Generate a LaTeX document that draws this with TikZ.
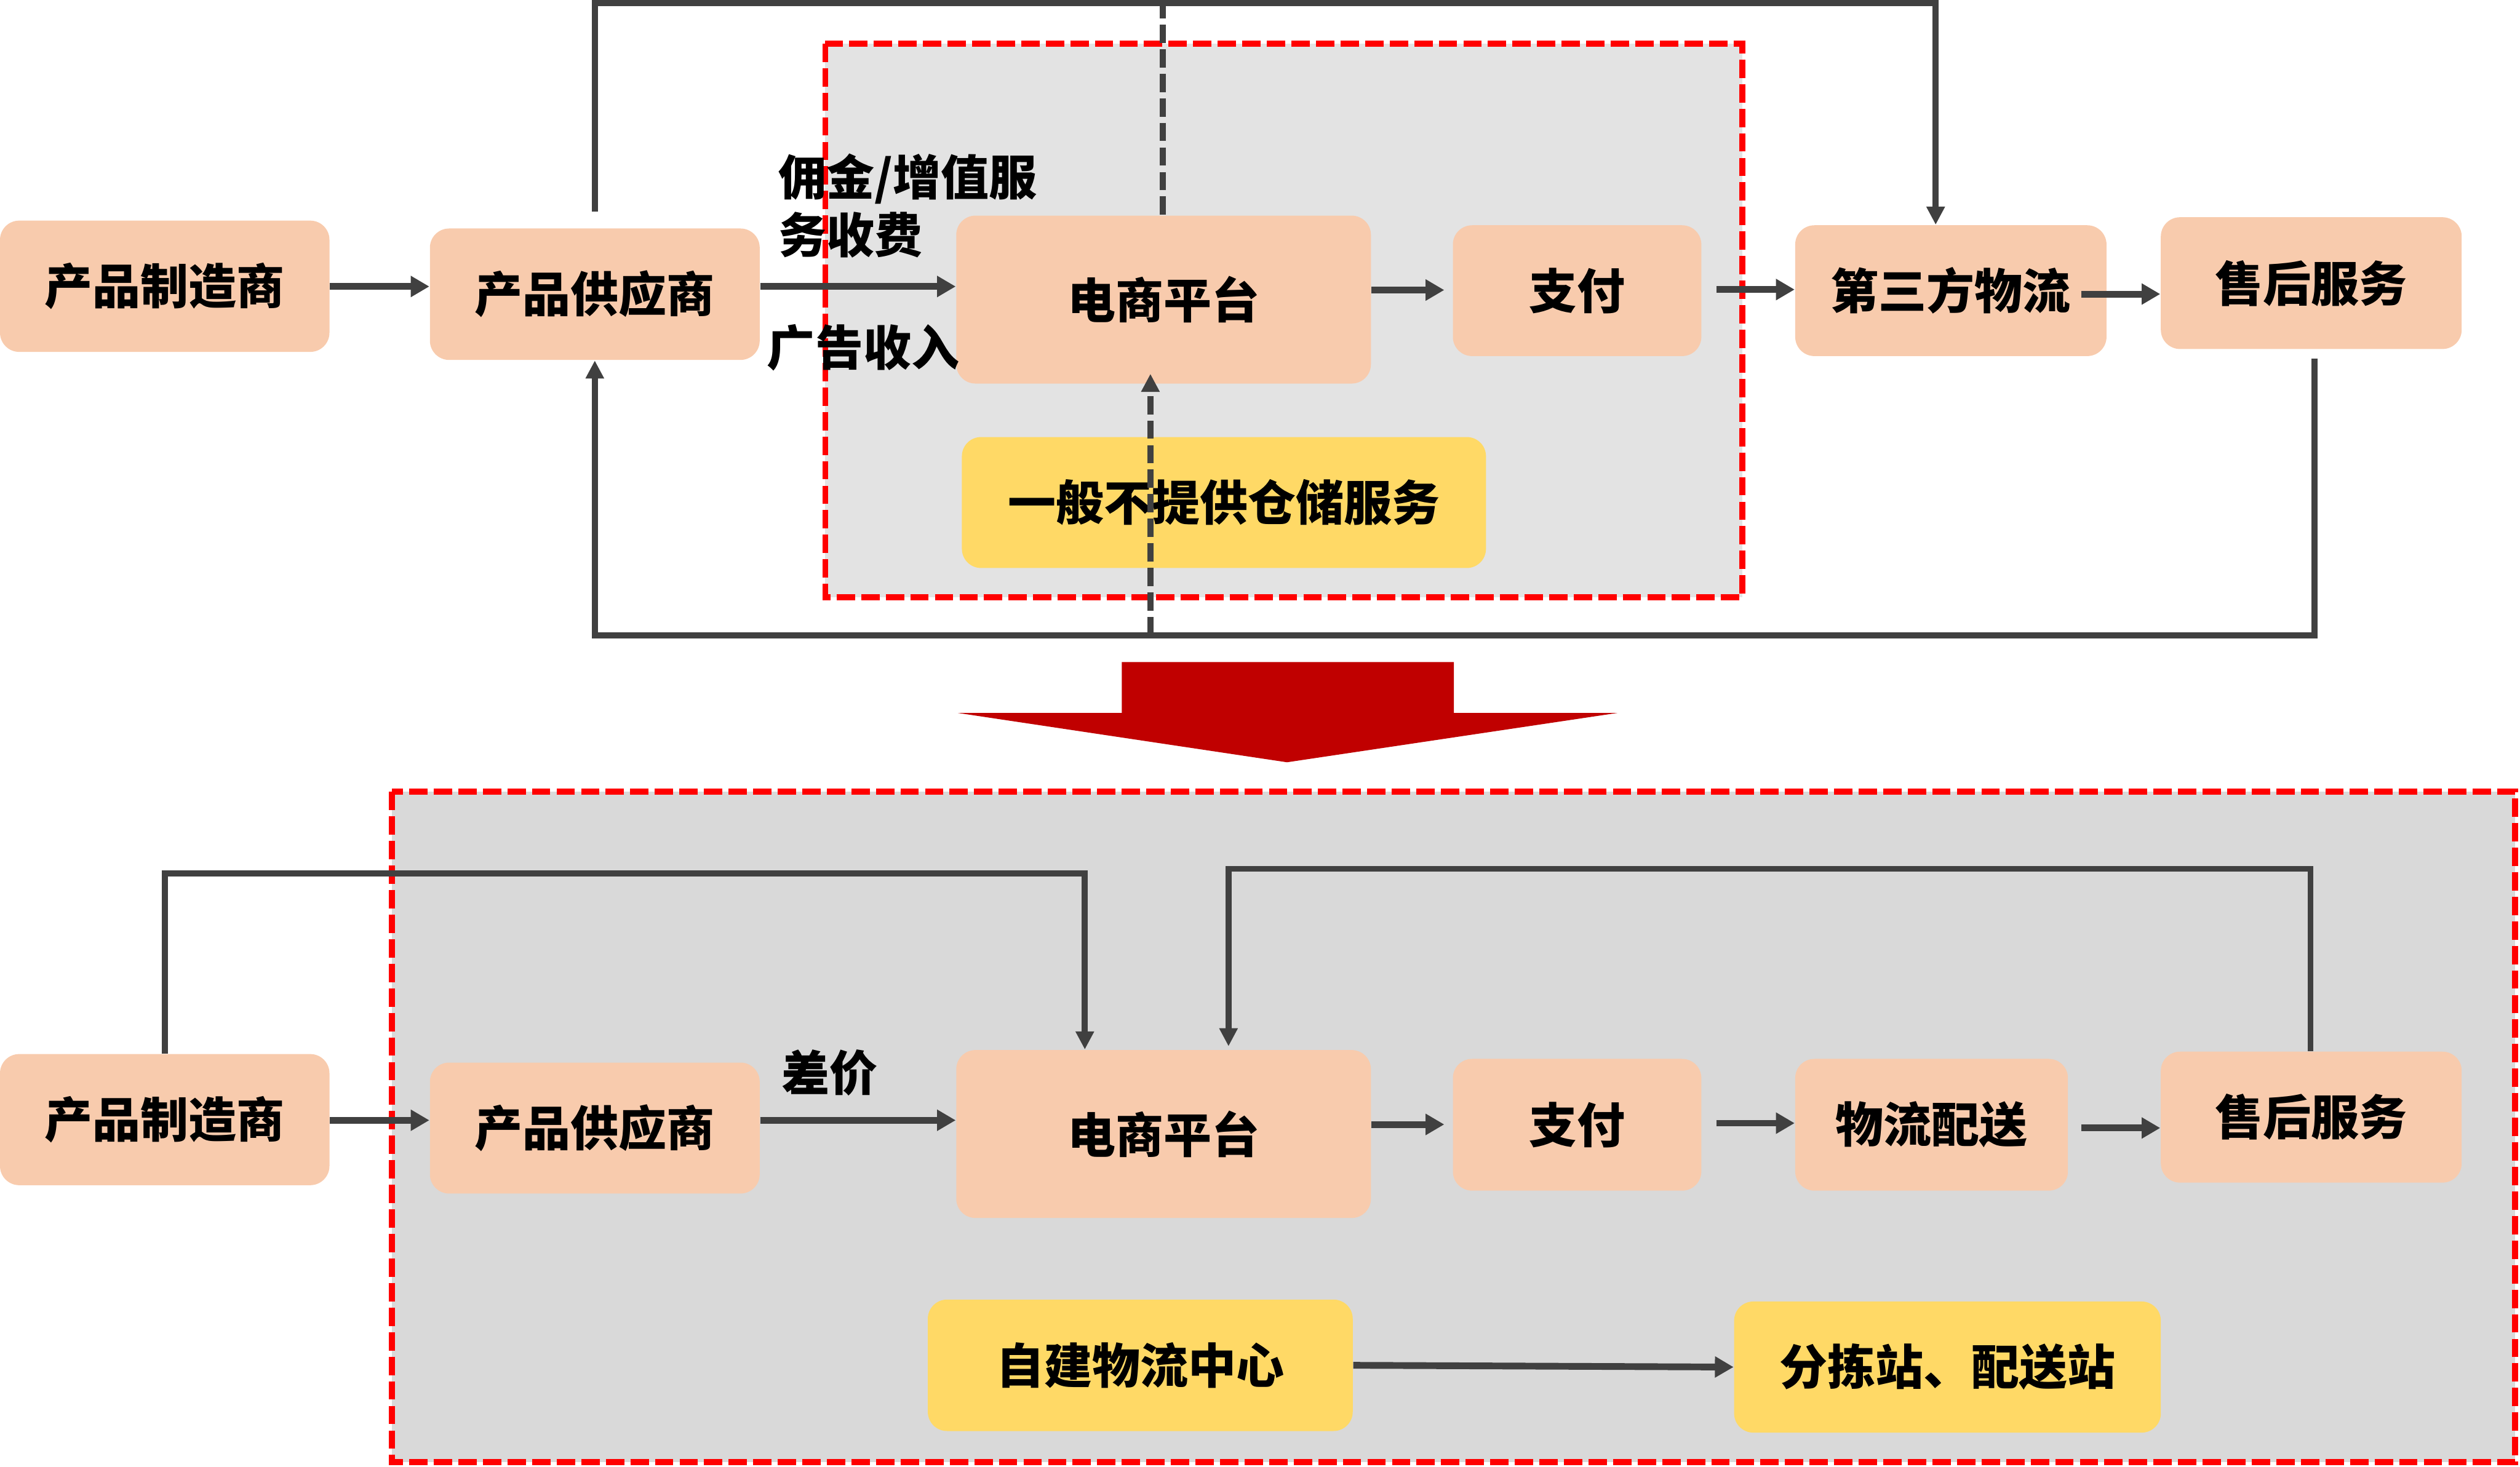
\documentclass[tikz,border=0pt]{standalone}
\usepackage{fontspec}
\newfontfamily\cjk{Noto Sans CJK SC}
\usetikzlibrary{arrows.meta,calc}
\definecolor{peach}{HTML}{F8CBAD}
\definecolor{gold}{HTML}{FFD966}
\definecolor{greyA}{HTML}{E3E3E3}
\definecolor{greyB}{HTML}{D9D9D9}
\definecolor{lineg}{HTML}{404040}
\definecolor{redd}{HTML}{FF0000}
\definecolor{redarrow}{HTML}{C00000}
\begin{document}
\begin{tikzpicture}[x=0.02cm, y=-0.02cm,
  txt/.style={font=\cjk\bfseries\fontsize{17}{20.4}\selectfont, text=black},
  sz/.style 2 args={minimum width=#1*0.02cm, minimum height=#2*0.02cm},
  pbox/.style={txt, fill=peach, rounded corners=6.8pt, inner sep=0pt},
  ybox/.style={txt, fill=gold, rounded corners=6.8pt, inner sep=0pt},
  mainarrow/.style={draw=lineg, line width=2.38pt, -{Triangle[length=6.6pt,width=7.15pt]}},
  backline/.style={draw=lineg, line width=2.13pt},
  backarrow/.style={backline, -{Triangle[length=6.4pt,width=6.2pt]}},
  blackdash/.style={draw=lineg, line width=2.13pt, dash pattern=on 6.5pt off 2.2pt},
  redbox/.style={draw=redd, line width=2.13pt, dash pattern=on 6.5pt off 2.2pt},
]
\useasboundingbox (0,0) rectangle (1568,913);

% containers
\draw[redbox, fill=greyA] (513.5,27.1) rectangle (1084,371.6);
\draw[redbox, fill=greyB] (243.9,492.8) rectangle (1565,910);

% big red arrow
\fill[redarrow] (698,412) -- (904.6,412) -- (904.6,443.7) -- (1006.4,443.7) -- (800.8,474.4) -- (596,443.7) -- (698,443.7) -- cycle;

% top boxes
\node[pbox, sz={205}{81.7}] (a1) at (102.5,178.15) {产品制造商};
\node[pbox, sz={205.2}{81.8}] (a2) at (370.1,183.1) {产品供应商};
\node[pbox, sz={258}{104.5}] (a3) at (724,186.45) {电商平台};
\node[pbox, sz={154.6}{81.4}] (a4) at (981.3,180.9) {支付};
\node[pbox, sz={193.7}{81.4}] (a5) at (1213.85,180.9) {第三方物流};
\node[pbox, sz={187.2}{82}] (a6) at (1438.1,176.2) {售后服务};
\node[ybox, sz={326.1}{81.5}] (a7) at (761.55,312.75) {一般不提供仓储服务};

% top labels
\node[txt, anchor=west, align=left, inner sep=0pt] (l1) at (484,128) {佣金/增值服\\务收费};
\node[txt, anchor=west, inner sep=0pt] (l2) at (477,216.5) {广告收入};

% top arrows
\draw[mainarrow] (a1.east |- 0,178.3) -- (a2.west |- 0,178.3);
\draw[mainarrow] (a2.east |- 0,178.3) -- (a3.west |- 0,178.3);
\draw[mainarrow] (a3.east |- 0,180.5) -- ($(a4.west |- 0,180.5)+(-5,0)$);
\draw[mainarrow] ($(a4.east |- 0,180.2)+(9,0)$) -- (a5.west |- 0,180.2);
\draw[mainarrow] ($(a5.east |- 0,183)+(-16,0)$) -- (a6.west |- 0,183);

% top loops
\coordinate (tl) at (370.1,1.9);
\coordinate (tr) at (1204.4,1.9);
\draw[backarrow] ($(a2.north)+(0,-10)$) -- (tl) -- (tr) -- (a5.north -| tr);
\coordinate (br) at (1440,395.4);
\coordinate (bl) at (370.1,395.4);
\draw[backarrow] (br |- 0,223) -- (br) -- (bl) -- (a2.south);

% dashed lines through platform
\coordinate (dt) at (723.5,0);
\draw[blackdash] (dt) -- (a3.north -| dt);
\coordinate (db) at (715.8,395.4);
\draw[blackdash, -{Triangle[length=6.4pt,width=6.2pt]}] (db) -- ($(a3.south -| db)+(0,-6.4)$);

% bottom boxes
\node[pbox, sz={205}{81.6}] (b1) at (102.5,696.8) {产品制造商};
\node[pbox, sz={205.2}{81.5}] (b2) at (370.1,702.05) {产品供应商};
\node[pbox, sz={258}{104.5}] (b3) at (724,705.75) {电商平台};
\node[pbox, sz={154.6}{82}] (b4) at (981.3,700) {支付};
\node[pbox, sz={169.7}{82}] (b5) at (1201.85,700) {物流配送};
\node[pbox, sz={187.2}{81.5}] (b6) at (1438.1,695.25) {售后服务};
\node[ybox, sz={264.4}{81.8}] (b7) at (709.5,849.7) {自建物流中心};
\node[ybox, sz={265.5}{81.6}] (b8) at (1211.75,850.8) {分拣站、配送站};

\node[txt, anchor=west, inner sep=0pt] (l3) at (486,667.5) {差价};

% bottom arrows
\draw[mainarrow] (b1.east |- 0,697.2) -- (b2.west |- 0,697.2);
\draw[mainarrow] (b2.east |- 0,697.2) -- (b3.west |- 0,697.2);
\draw[mainarrow] (b3.east |- 0,699.8) -- ($(b4.west |- 0,699.8)+(-5,0)$);
\draw[mainarrow] ($(b4.east |- 0,699)+(9,0)$) -- (b5.west |- 0,699);
\draw[mainarrow] ($(b5.east |- 0,702)+(8,0)$) -- (b6.west |- 0,702);
\draw[mainarrow] (b7.east) -- (b8.west);

% bottom loops
\coordinate (m1) at (102.6,543.6);
\coordinate (m2) at (675,543.6);
\draw[backarrow] (b1.north -| m1) -- (m1) -- (m2) -- (b3.north -| m2);
\coordinate (n1) at (1437.6,540.7);
\coordinate (n2) at (764.4,540.7);
\draw[backarrow] (b6.north -| n1) -- (n1) -- (n2) -- ($(b3.north -| n2)+(0,-2)$);
\end{tikzpicture}
\end{document}
